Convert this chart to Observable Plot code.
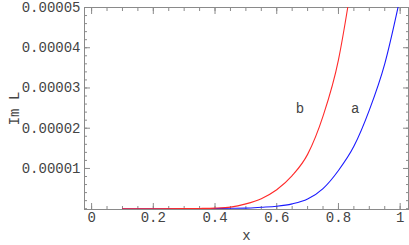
<!DOCTYPE html>
<html>
<head>
<meta charset="utf-8">
<script src="https://cdn.jsdelivr.net/npm/d3@7"></script>
<script src="https://cdn.jsdelivr.net/npm/@observablehq/plot@0.6"></script>
<style>
  html, body { margin: 0; padding: 0; background: #fff; }
  svg { display: block; }
</style>
</head>
<body>
<div id="chart"></div>
<script>
// Data
const xA = [0.1, 0.2, 0.3, 0.4, 0.45, 0.5, 0.55, 0.6, 0.65, 0.7, 0.75, 0.8, 0.85, 0.9, 0.95, 1.0];
const imA = [0, 0, 0.0000000005, 0.00000005, 0.0000001, 0.00000015, 0.00000035, 0.0000006, 0.0000012, 0.0000024, 0.000005, 0.0000095, 0.0000155, 0.0000245, 0.000036, 0.0000525];
const xB = [0.1, 0.2, 0.3, 0.35, 0.4, 0.45, 0.5, 0.55, 0.6, 0.65, 0.7, 0.75, 0.8, 0.83, 0.85];
const imB = [0, 0, 0.00000002, 0.00000006, 0.00000015, 0.0000004, 0.0000012, 0.0000025, 0.0000047, 0.0000082, 0.0000135, 0.000023, 0.000037, 0.00005, 0.00006];
const curveNames = ["a", "b"];
const curveColors = ["#1a1aff", "#ff2a2a"];
const labelX = [0.854, 0.675];
const labelY = [0.000025, 0.000025];
const xTicks = [0, 0.2, 0.4, 0.6, 0.8, 1];
const yTicks = [0.00001, 0.00002, 0.00003, 0.00004, 0.00005];
const xMinor = d3.range(0, 1.001, 0.05);
const yMinor = d3.range(0, 0.0000501, 0.000002);

const seriesA = xA.map((x, i) => ({x, y: imA[i], s: "a"}));
const seriesB = xB.map((x, i) => ({x, y: imB[i], s: "b"}));
const labels = curveNames.map((t, i) => ({t, x: labelX[i], y: labelY[i]}));

const font = "'Liberation Mono', 'DejaVu Sans Mono', monospace";
const gray = "#8a8a8a";
const ink = "#444";

const chart = Plot.plot({
  width: 409,
  height: 245,
  marginLeft: 84,
  marginRight: 1,
  marginTop: 7,
  marginBottom: 36,
  style: {fontFamily: font, fontSize: "14px", color: ink, background: "#fff"},
  x: {domain: [-0.023, 1.027]},
  y: {domain: [-0.0000002, 0.00005]},
  marks: [
    Plot.frame({stroke: gray}),
    // minor ticks (inward) on all four sides
    Plot.axisX(xMinor, {anchor: "bottom", tickSize: -3, text: null, stroke: gray, label: null}),
    Plot.axisX(xMinor, {anchor: "top", tickSize: -3, text: null, stroke: gray, label: null}),
    Plot.axisY(yMinor, {anchor: "left", tickSize: -3, text: null, stroke: gray, label: null}),
    Plot.axisY(yMinor, {anchor: "right", tickSize: -3, text: null, stroke: gray, label: null}),
    // major ticks
    Plot.axisX(xTicks, {anchor: "bottom", tickSize: -6, text: null, stroke: gray, label: null}),
    Plot.axisX(xTicks, {anchor: "top", tickSize: -6, text: null, stroke: gray, label: null}),
    Plot.axisY(yTicks, {anchor: "left", tickSize: -6, text: null, stroke: gray, label: null}),
    Plot.axisY(yTicks, {anchor: "right", tickSize: -6, text: null, stroke: gray, label: null}),
    // tick labels + axis titles
    Plot.axisX(xTicks, {anchor: "bottom", tickSize: 0, tickPadding: 3, tickFormat: d => String(+d.toFixed(1)),
      label: "x", labelAnchor: "center", labelArrow: "none", labelOffset: 30, fill: ink}),
    Plot.axisY(yTicks, {anchor: "left", tickSize: 0, tickPadding: 4, tickFormat: d => d3.format(".5f")(d),
      label: "Im L", labelAnchor: "center", labelArrow: "none", labelOffset: 75, fill: ink}),
    Plot.line(seriesA, {x: "x", y: "y", stroke: curveColors[0], strokeWidth: 1.1, curve: "monotone-x", clip: true}),
    Plot.line(seriesB, {x: "x", y: "y", stroke: curveColors[1], strokeWidth: 1.1, curve: "monotone-x", clip: true}),
    Plot.text(labels, {x: "x", y: "y", text: "t", fill: ink, fontSize: 14})
  ]
});
document.getElementById("chart").appendChild(chart);
</script>
</body>
</html>
